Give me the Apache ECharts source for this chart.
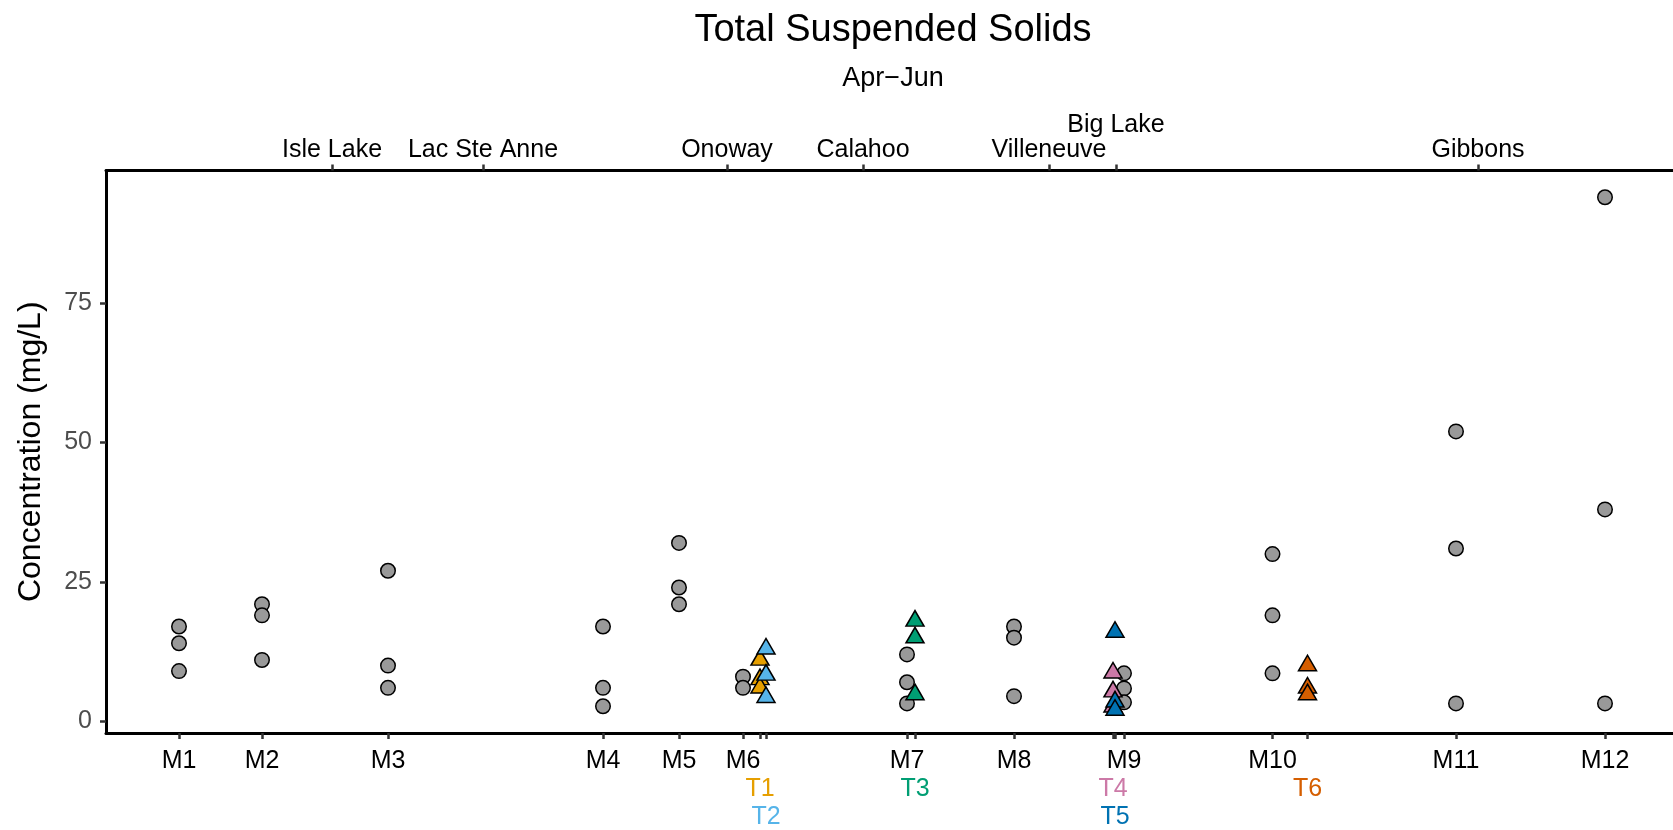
<!DOCTYPE html>
<html>
<head>
<meta charset="utf-8">
<script src="https://cdn.jsdelivr.net/npm/echarts@6/dist/echarts.min.js"></script>
<style>
  html, body { margin: 0; padding: 0; background: #ffffff; }
  #chart { width: 1673px; height: 830px; }
</style>
</head>
<body>
<div id="chart"></div>
<script>
// Main-stem monitoring sites: position along the river (km) and TSS samples (mg/L)
const mainSites = ['M1', 'M2', 'M3', 'M4', 'M5', 'M6', 'M7', 'M8', 'M9', 'M10', 'M11', 'M12'];
const mainKm = [7.3, 15.6, 28.2, 49.7, 57.3, 63.7, 80.1, 90.8, 101.8, 116.65, 135.0, 149.9];
const mainTSS = [
  [17, 14, 9],
  [21, 19, 11],
  [27, 10, 6],
  [17, 6, 2.7],
  [32, 24, 21],
  [8, 6],
  [12, 7, 3.2],
  [17, 15, 4.5],
  [8.6, 5.9, 3.4],
  [30, 19, 8.6],
  [52, 31, 3.2],
  [94, 38, 3.2]
];

// Tributary sites: confluence position (km) and TSS samples (mg/L)
const tribSites = ['T1', 'T2', 'T3', 'T4', 'T5', 'T6'];
const tribKm = [65.4, 66.0, 80.9, 100.7, 100.9, 120.15];
const tribTSS = [
  [11, 7.5, 6],
  [13, 8.3, 4.3],
  [18, 15, 4.8],
  [8.7, 5.3, 2.6],
  [16, 3.5, 2.0],
  [10, 6, 4.8]
];

// Towns along the river (top axis)
const towns = ['Isle Lake', 'Lac Ste Anne', 'Onoway', 'Calahoo', 'Villeneuve', 'Big Lake', 'Gibbons'];
const townKm = [22.6, 37.7, 62.1, 75.7, 94.3, 101.0, 137.2];

// Concentration axis ticks
const yTicks = [0, 25, 50, 75];

// ---- styling / layout ----
const FONT = 'Liberation Sans';
const tribColors = ['#E69F00', '#56B4E9', '#009E73', '#CC79A7', '#0072B2', '#D55E00'];
const lowerRowTribs = ['T2', 'T5'];   // labels pushed to a third row to avoid overlap
const upperRowTowns = ['Big Lake'];   // label pushed above the others
const X_MIN = 0, X_MAX = 156.7;
const Y_MIN = -2.1, Y_MAX = 98.8;
const LABEL_SIZE = 25;

function nameLookup(names, positions) {
  return function (v) {
    let best = -1, dist = Infinity;
    positions.forEach(function (p, i) {
      const d = Math.abs(p - v);
      if (d < dist) { dist = d; best = i; }
    });
    return best >= 0 && dist < 1e-6 ? names[best] : '';
  };
}

const tribRich = {};
tribSites.forEach(function (s, i) {
  tribRich['t' + i] = { color: tribColors[i], fontSize: LABEL_SIZE, fontFamily: FONT };
});
function tribFormatter(v) {
  const name = nameLookup(tribSites, tribKm)(v);
  const i = tribSites.indexOf(name);
  return i < 0 ? '' : '{t' + i + '|' + name + '}';
}

const axisLineStyle = { color: '#000000', width: 3 };
const tickStyle = { color: '#333333', width: 2.5 };

function labelOnlyAxis(position, offset, values, formatter, margin, rich) {
  return {
    type: 'value', gridIndex: 0, position: position, offset: offset,
    min: X_MIN, max: X_MAX,
    axisLine: { show: false, onZero: false },
    axisTick: { show: false },
    splitLine: { show: false },
    axisLabel: {
      customValues: values, formatter: formatter, margin: margin, rich: rich,
      color: '#000000', fontSize: LABEL_SIZE, fontFamily: FONT
    }
  };
}

const tribRow2 = tribSites.filter(function (s) { return lowerRowTribs.indexOf(s) < 0; })
  .map(function (s) { return tribKm[tribSites.indexOf(s)]; });
const tribRow3 = lowerRowTribs.map(function (s) { return tribKm[tribSites.indexOf(s)]; });
const townRow1 = towns.filter(function (t) { return upperRowTowns.indexOf(t) < 0; })
  .map(function (t) { return townKm[towns.indexOf(t)]; });
const townRow2 = upperRowTowns.map(function (t) { return townKm[towns.indexOf(t)]; });

const series = [{
  type: 'scatter',
  name: 'Main stem',
  xAxisIndex: 0, yAxisIndex: 0,
  symbol: 'circle',
  symbolSize: 14.5,
  itemStyle: { color: '#999999', borderColor: '#000000', borderWidth: 1.5, opacity: 1 },
  emphasis: { disabled: true },
  z: 2,
  data: mainSites.flatMap(function (s, i) {
    return mainTSS[i].map(function (v) { return [mainKm[i], v]; });
  })
}];
tribSites.forEach(function (s, i) {
  series.push({
    type: 'scatter',
    name: s,
    xAxisIndex: 0, yAxisIndex: 0,
    symbol: 'triangle',
    symbolSize: [18, 15.5],
    symbolOffset: [0, -2.6],
    itemStyle: { color: tribColors[i], borderColor: '#000000', borderWidth: 1.5, opacity: 1 },
    emphasis: { disabled: true },
    z: 3,
    data: tribTSS[i].map(function (v) { return [tribKm[i], v]; })
  });
});

const chart = echarts.init(document.getElementById('chart'), null, { renderer: 'canvas' });
chart.setOption({
  animation: false,
  backgroundColor: '#ffffff',
  textStyle: { fontFamily: FONT },
  grid: { left: 106, right: 0, top: 170.5, height: 565.2, containLabel: false },
  graphic: [
    {
      type: 'text', x: 893, y: 30.5,
      style: {
        text: 'Total Suspended Solids', fill: '#000000',
        fontSize: 38, fontFamily: FONT,
        align: 'center', verticalAlign: 'middle',
        textAlign: 'center', textVerticalAlign: 'middle'
      }
    },
    {
      type: 'text', x: 893, y: 79,
      style: {
        text: 'Apr\u2212Jun', fill: '#000000',
        fontSize: 27, fontFamily: FONT,
        align: 'center', verticalAlign: 'middle',
        textAlign: 'center', textVerticalAlign: 'middle'
      }
    }
  ],
  xAxis: [
    {
      type: 'value', gridIndex: 0, position: 'bottom',
      min: X_MIN, max: X_MAX,
      axisLine: { show: true, onZero: false, lineStyle: axisLineStyle },
      axisTick: { show: true, customValues: mainKm.concat(tribKm), length: 6, lineStyle: tickStyle },
      splitLine: { show: false },
      axisLabel: {
        customValues: mainKm, formatter: nameLookup(mainSites, mainKm), margin: 16,
        color: '#000000', fontSize: LABEL_SIZE, fontFamily: FONT
      }
    },
    labelOnlyAxis('bottom', 27.5, tribRow2, tribFormatter, 16, tribRich),
    labelOnlyAxis('bottom', 56, tribRow3, tribFormatter, 16, tribRich),
    {
      type: 'value', gridIndex: 0, position: 'top',
      min: X_MIN, max: X_MAX,
      axisLine: { show: true, onZero: false, lineStyle: axisLineStyle },
      axisTick: { show: true, customValues: townKm, length: 6, lineStyle: tickStyle },
      splitLine: { show: false },
      axisLabel: {
        customValues: townRow1, formatter: nameLookup(towns, townKm), margin: 8,
        color: '#000000', fontSize: LABEL_SIZE, fontFamily: FONT
      }
    },
    labelOnlyAxis('top', 25, townRow2, nameLookup(towns, townKm), 8)
  ],
  yAxis: [{
    type: 'value', gridIndex: 0, position: 'left',
    min: Y_MIN, max: Y_MAX,
    name: 'Concentration (mg/L)',
    nameLocation: 'middle', nameGap: 59,
    nameTextStyle: { fontSize: 32, fontFamily: FONT, color: '#000000' },
    axisLine: { show: true, onZero: false, lineStyle: axisLineStyle },
    axisTick: { show: true, customValues: yTicks, length: 6, lineStyle: tickStyle },
    splitLine: { show: false },
    axisLabel: {
      customValues: yTicks, margin: 14,
      color: '#4d4d4d', fontSize: LABEL_SIZE, fontFamily: FONT
    }
  }],
  series: series
});
</script>
</body>
</html>
